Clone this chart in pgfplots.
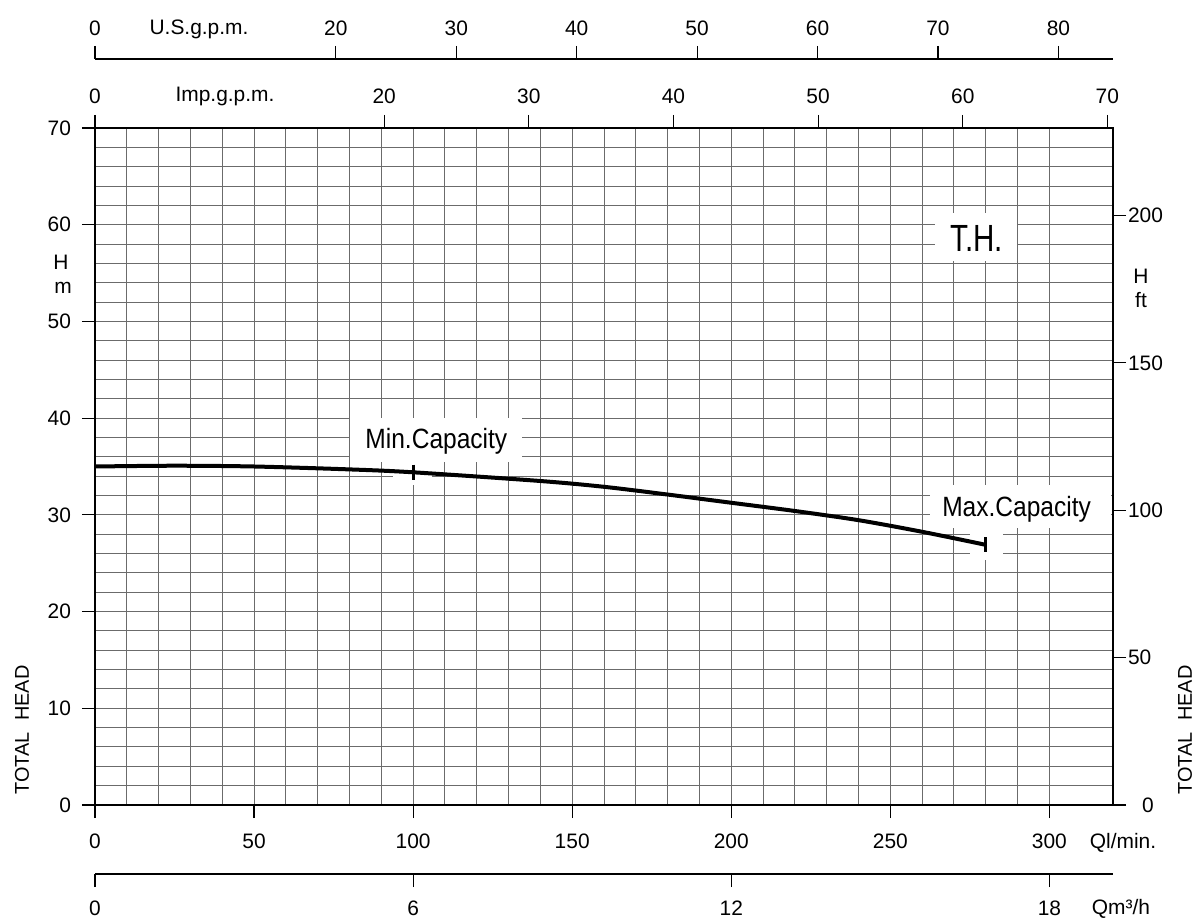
\documentclass[border=0pt]{standalone}
\usepackage{pgfplots}
\pgfplotsset{compat=1.18}
\usepackage{fontspec}
\setmainfont{Liberation Sans}
\newfontfamily\narrowA[FakeStretch=0.88]{Liberation Sans}
\newfontfamily\narrowB[FakeStretch=0.78]{Liberation Sans}
\pgfplotsset{
  every axis/.append style={
    /pgf/number format/assume math mode=true,
    scale only axis, width=509bp, height=338.5bp,
    tick label style={font=\fontsize{10.5}{12}\selectfont, black},
    tick align=outside, major tick length=6.5bp, minor tick length=0pt,
    tick style={black, line width=0.6bp},
    axis line style={black, line width=0.6bp},
  }
}
\begin{document}
\begin{tikzpicture}
\useasboundingbox (-47.5bp,-57.5bp) rectangle (552bp,402.5bp);
% main axis: Q in l/min, H in m
\begin{axis}[
  name=main, at={(0,0)}, anchor=south west,
  xmin=0, xmax=320, ymin=0, ymax=70,
  xtick={0,50,...,300}, ytick={0,10,...,70},
  minor x tick num=4, minor y tick num=4,
  grid=both,
  major grid style={black!58, line width=0.5bp},
  minor grid style={black!58, line width=0.5bp},
  xtick pos=bottom, ytick pos=left,
  xticklabel style={yshift=-4.5bp},
  yticklabel style={xshift=-2bp},
]
\fill[white] (axis cs:80.2,35.5) rectangle (axis cs:134.2,40);
\fill[white] (axis cs:93.7,33.1) rectangle (axis cs:105.9,35.5);
\fill[white] (axis cs:262.5,28.6) rectangle (axis cs:319.3,33.1);
\fill[white] (axis cs:275,25.3) rectangle (axis cs:285.4,28.6);
\fill[white] (axis cs:264,56.25) rectangle (axis cs:289.8,61.2);
\node[font=\narrowA\fontsize{14}{16}\selectfont] at (axis cs:107.3,37.6) {Min.Capacity};
\node[font=\narrowA\fontsize{14}{16}\selectfont] at (axis cs:289.7,30.6) {Max.Capacity};
\node[font=\narrowB\fontsize{19}{22}\selectfont] at (axis cs:277.2,58.6) {T.H.};
\addplot[black, line width=2bp, smooth, tension=0.5] coordinates {
  (0,35.0) (25,35.08) (50,35.0) (80,34.7) (100,34.4) (140,33.5) (160,32.9)
  (180,32.1) (200,31.25) (220,30.4) (240,29.45) (260,28.25) (280,26.9)
};
\addplot[only marks, mark=|, mark size=3.8bp, mark options={line width=1.5bp, black}]
  coordinates {(100,34.4) (280,26.9)};
\end{axis}
% right axis: H in ft
\begin{axis}[
  at={(0,0)}, anchor=south west,
  xmin=0, xmax=320, ymin=0, ymax=229.659,
  axis x line=none, axis y line*=right,
  ytick={0,50,...,200},
  yticklabels={\hspace{7bp}0,50,100,150,200},
  yticklabel style={anchor=west, xshift=-2.5bp},
]
\end{axis}
% top axis: Imp.g.p.m.
\begin{axis}[
  at={(0,0)}, anchor=south west,
  xmin=0, xmax=70.3902, ymin=0, ymax=1,
  axis x line*=top, axis y line=none,
  xtick={0,20,30,40,50,60,70},
  xticklabel style={yshift=2bp},
]
\end{axis}
% top axis: U.S.g.p.m.
\begin{axis}[
  at={(0,34.5bp)}, anchor=south west,
  xmin=0, xmax=84.535, ymin=0, ymax=1,
  axis x line*=top, axis y line=none,
  xtick={0,20,30,40,50,60,70,80},
  xticklabel style={yshift=1.5bp},
]
\end{axis}
% bottom axis: m3/h
\begin{axis}[
  at={(0,-34.5bp)}, anchor=south west,
  xmin=0, xmax=19.2, ymin=0, ymax=1,
  axis x line*=bottom, axis y line=none,
  xtick={0,6,12,18},
  xticklabel style={yshift=-3.5bp},
]
\end{axis}
% unit labels
\begin{scope}[every node/.style={font=\fontsize{10.5}{12}\selectfont, inner sep=0pt}]
\node at (514bp,-19bp) {Ql/min.};
\node at (513bp,-52bp) {Qm³/h};
\node at (65bp,354.5bp) {Imp.g.p.m.};
\node at (52bp,388bp) {U.S.g.p.m.};
\node at (-17bp,271.5bp) {H};
\node at (-16bp,258.5bp) {m};
\node at (523bp,264.5bp) {H};
\node at (523bp,252.5bp) {ft};
\node[rotate=90, font=\fontsize{10}{12}\selectfont] at (-36.5bp,37.5bp) {TOTAL\ \ HEAD};
\node[rotate=90, font=\fontsize{10}{12}\selectfont] at (545bp,37.5bp) {TOTAL\ \ HEAD};
\end{scope}
\end{tikzpicture}
\end{document}
